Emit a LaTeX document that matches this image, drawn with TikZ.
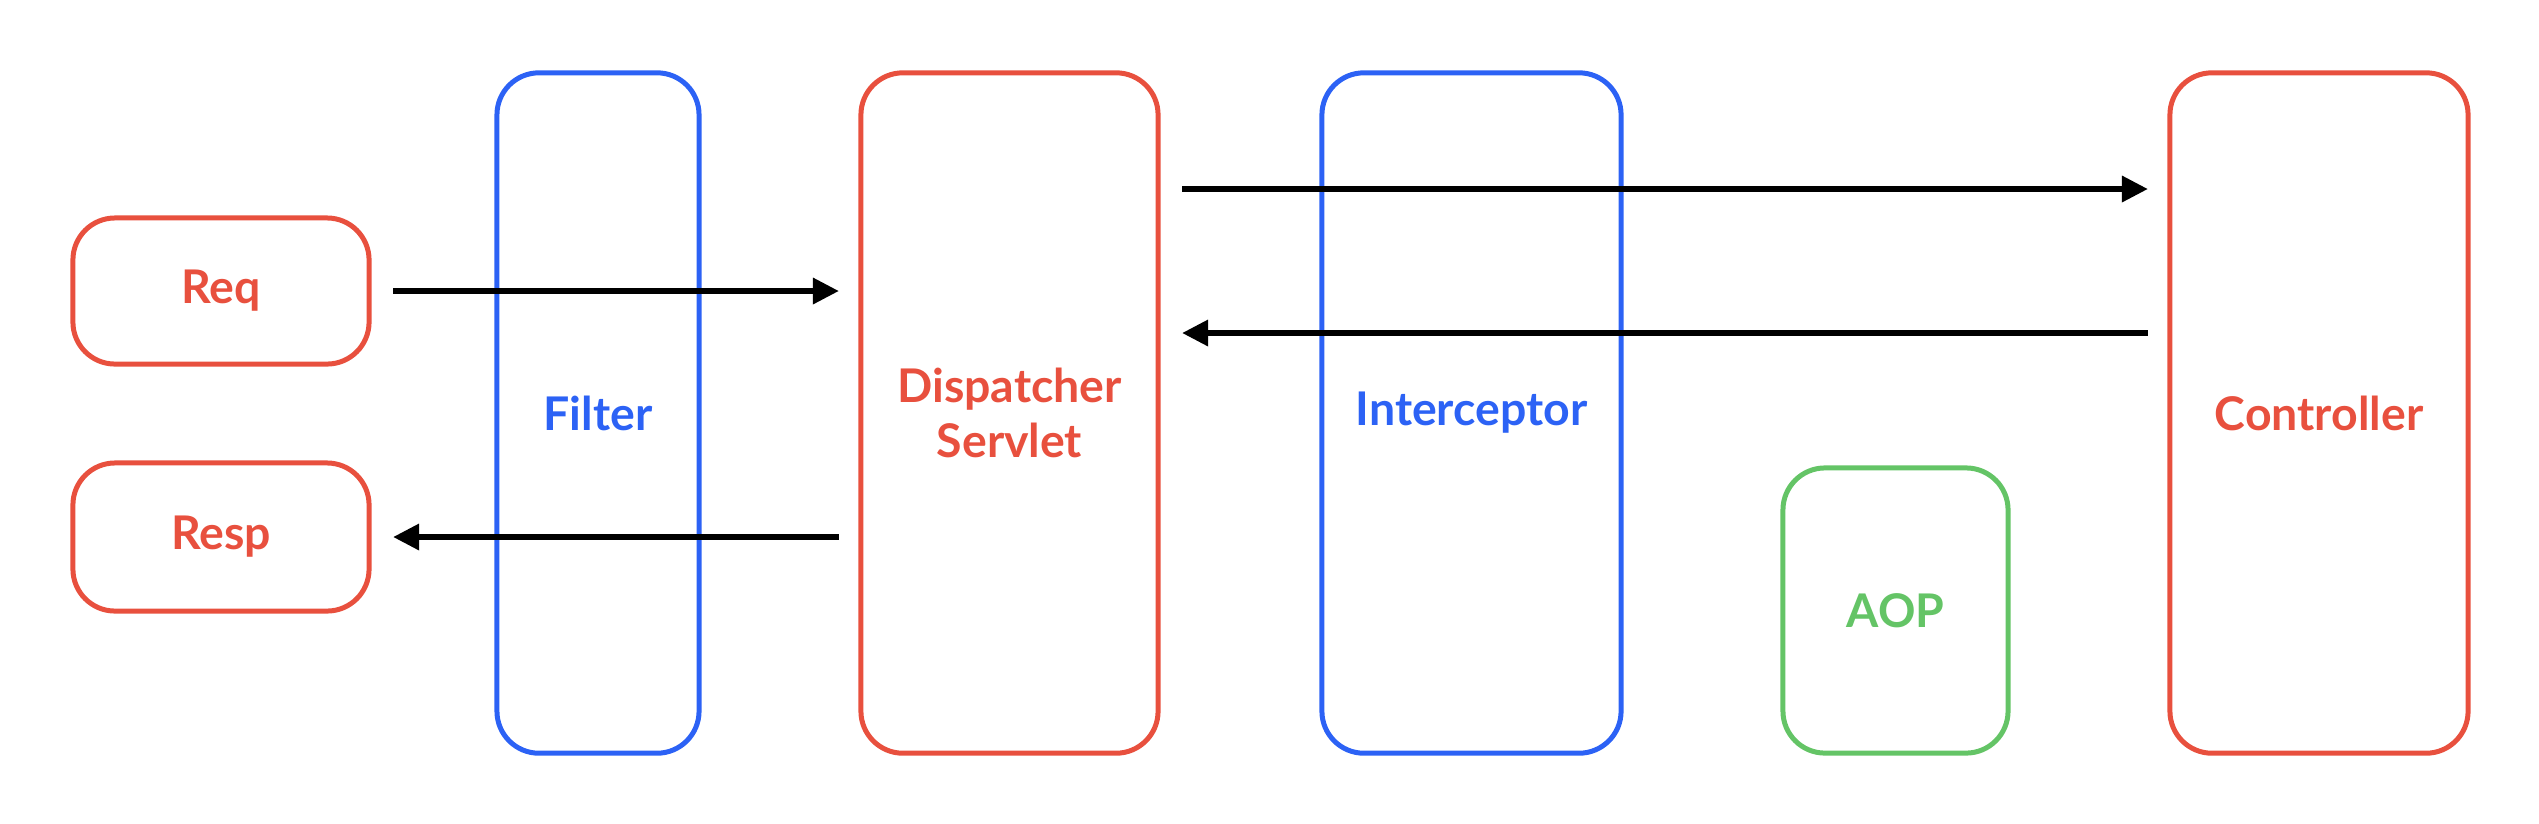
\documentclass[tikz,border=0pt]{standalone}
\usepackage{fontspec}
\setmainfont{Lato}
\usetikzlibrary{arrows.meta}
\definecolor{cred}{HTML}{E8503E}
\definecolor{cblue}{HTML}{2C62F5}
\definecolor{cgreen}{HTML}{64C466}
\begin{document}
\begin{tikzpicture}[x=0.01cm,y=-0.01cm,
  box/.style={draw, line width=1.42pt, rounded corners=0.42cm, inner sep=0pt, outer sep=0pt,
    font=\fontsize{13.2pt}{15.6pt}\selectfont\bfseries, align=center},
  redbox/.style={box, draw=cred, text=cred},
  bluebox/.style={box, draw=cblue, text=cblue},
  greenbox/.style={box, draw=cgreen, text=cgreen},
  arr/.style={line width=1.6pt, -{Triangle[length=7.4pt,width=7.2pt]}}]
\useasboundingbox (0,0) rectangle (2539,823);
\node[redbox, minimum width=2.96cm, minimum height=1.46cm] (req) at (221,291) {Req};
\node[redbox, minimum width=2.96cm, minimum height=1.48cm] (resp) at (221,537) {Resp};
\node[bluebox, minimum width=2.02cm, minimum height=6.80cm] (filter) at (598,413) {Filter};
\node[redbox, minimum width=2.97cm, minimum height=6.80cm] (disp) at (1009.5,413) {Dispatcher\\Servlet};
\node[bluebox, minimum width=2.99cm, minimum height=6.80cm] (inter) at (1471.5,413) {Interceptor};
\node[greenbox, minimum width=2.25cm, minimum height=2.85cm] (aop) at (1895.5,610.5) {AOP};
\node[redbox, minimum width=2.98cm, minimum height=6.80cm] (ctrl) at (2319,413) {Controller};
\coordinate (ytop) at (0,189);
\coordinate (yret) at (0,333);
\draw[arr, shorten <=0.24cm, shorten >=0.22cm] (req.east) -- (req.east -| disp.west);
\draw[arr, shorten <=0.22cm, shorten >=0.24cm] (resp.east -| disp.west) -- (resp.east);
\draw[arr, shorten <=0.24cm, shorten >=0.22cm] (disp.east |- ytop) -- (ctrl.west |- ytop);
\draw[arr, shorten <=0.22cm, shorten >=0.24cm] (ctrl.west |- yret) -- (disp.east |- yret);
\end{tikzpicture}
\end{document}
